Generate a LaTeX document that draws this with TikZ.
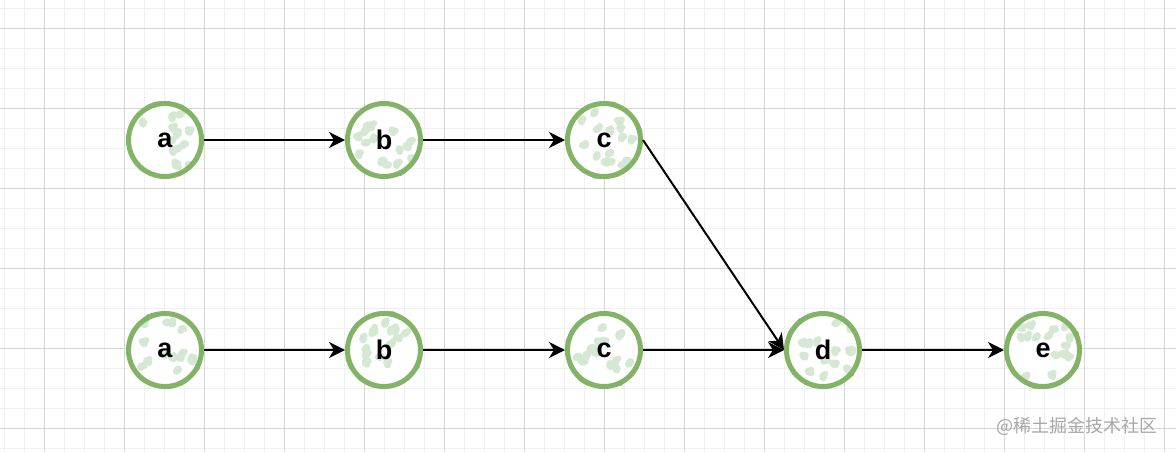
\documentclass[tikz,border=0pt]{standalone}
\usepackage{fontspec}
\setmainfont{Liberation Sans}
\newfontfamily\cjkfont{Noto Sans CJK SC}
\usetikzlibrary{arrows.meta,calc,decorations.pathmorphing}
\definecolor{gridminor}{HTML}{F0F0F0}
\definecolor{gridmajor}{HTML}{D6D6D6}
\definecolor{nodegreen}{HTML}{82B366}
\definecolor{blobgreen}{HTML}{D5E8D4}
\definecolor{markgray}{HTML}{A8A8A8}

\tikzset{
  vertex/.style={circle, minimum size=36.5pt, inner sep=0pt, fill=white,
    draw=nodegreen, line width=2.5pt,
    font=\fontsize{13.5}{15}\selectfont\bfseries,
    path picture={
      \foreach \k in {1,...,15}
        \fill[blobgreen] ($(path picture bounding box.center)+(rand*14pt,rand*14pt)$)
          +(rnd*1pt,0) circle[x radius=2.6pt, y radius=2pt, rotate=rnd*180]
          +(1.5pt,rnd*1.5pt) circle[radius=1.6pt];
    },
    postaction={draw=nodegreen, line width=0.9pt, decorate,
      decoration={random steps, segment length=4pt, amplitude=0.7pt}}},
  edge/.style={->, line width=1pt}
}

\begin{document}
\begin{tikzpicture}[x=0.5pt,y=-0.5pt,>={Stealth[length=8pt,width=8pt,inset=2.5pt]}]
    \pgfmathsetseed{11}
    \useasboundingbox (0,0) rectangle (1176,452);
    \fill[white] (0,0) rectangle (1176,452);
    \foreach \gx in {4,24,...,1164} \draw[gridminor,line width=0.5pt] (\gx,0) -- (\gx,452);
    \foreach \gy in {8,28,...,448} \draw[gridminor,line width=0.5pt] (0,\gy) -- (1176,\gy);
    \foreach \gx in {44,124,...,1164} \draw[gridmajor,line width=0.5pt] (\gx,0) -- (\gx,452);
    \foreach \gy in {28,108,...,428} \draw[gridmajor,line width=0.5pt] (0,\gy) -- (1176,\gy);

    \node[vertex] (a1) at (165,140) {a};
    \node[vertex] (b1) at (384,140) {b};
    \node[vertex] (c1) at (604,140) {c};
    \node[vertex] (a2) at (165,350) {a};
    \node[vertex] (b2) at (384,350) {b};
    \node[vertex] (c2) at (604,350) {c};
    \node[vertex] (d) at (823,350) {d};
    \node[vertex] (e) at (1043,350) {e};

    \draw[edge] (a1) -- (b1);
    \draw[edge] (b1) -- (c1);
    \draw[edge] (c1.east) -- (d.west);
    \draw[edge] (a2) -- (b2);
    \draw[edge] (b2) -- (c2);
    \draw[edge] (c2) -- (d);
    \draw[edge] (d) -- (e);

    \node[anchor=east, text=markgray, font=\cjkfont\fontsize{9}{11}\selectfont] (mark) at (1165,426) {@稀土掘金技术社区};
\end{tikzpicture}
\end{document}
